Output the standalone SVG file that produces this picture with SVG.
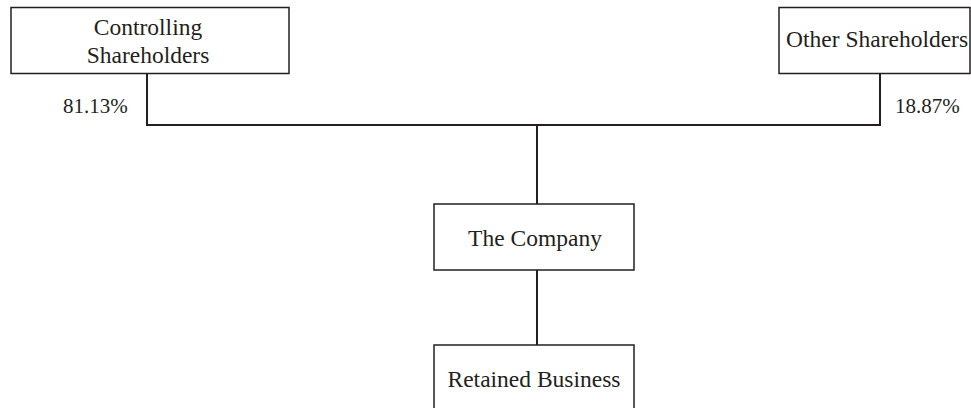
<svg xmlns="http://www.w3.org/2000/svg" width="971" height="408" viewBox="0 0 971 408">
<style>
.box{fill:#fff;stroke:#231f20;stroke-width:1.5}
.t{font-family:"Liberation Serif","Times New Roman",serif;font-size:23.5px;fill:#231f20;text-anchor:middle}
.p{font-family:"Liberation Serif","Times New Roman",serif;font-size:21px;fill:#231f20}
.c{fill:none;stroke:#231f20;stroke-width:2}
</style>
<rect width="971" height="408" fill="#fff"/>
<g id="connectors">
<polyline class="c" points="147,74 147,125 880,125 880,73"/>
<line class="c" x1="537" y1="125" x2="537" y2="204"/>
<line class="c" x1="537" y1="270" x2="537" y2="345"/>
</g>
<g id="controlling">
<rect class="box" x="11" y="7.5" width="278" height="66"/>
<text class="t" x="148" y="35">Controlling</text>
<text class="t" x="148" y="63">Shareholders</text>
</g>
<g id="other">
<rect class="box" x="779" y="7.5" width="191" height="66"/>
<text class="t" x="786" y="47" style="text-anchor:start">Other Shareholders</text>
</g>
<text class="p" x="63" y="113">81.13%</text>
<text class="p" x="895" y="113">18.87%</text>
<g id="company">
<rect class="box" x="434" y="204" width="200" height="66"/>
<text class="t" x="535" y="246">The Company</text>
</g>
<g id="retained">
<rect class="box" x="434" y="345" width="200" height="80"/>
<text class="t" x="534" y="387">Retained Business</text>
</g>
</svg>
